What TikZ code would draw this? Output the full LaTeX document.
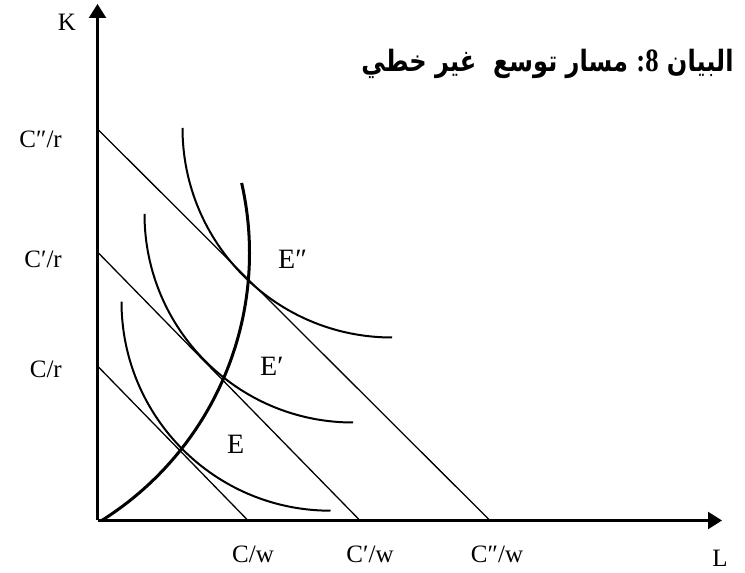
\documentclass[tikz,border=0pt]{standalone}
\usepackage{fontspec}
\setmainfont{Liberation Serif}
\newfontfamily\arabicfont[Script=Arabic]{DejaVu Sans}
\TeXXeTstate=1
\usetikzlibrary{arrows.meta}
\begin{document}
\begin{tikzpicture}[x=1pt,y=1pt,
  axis/.style={line width=2.4pt,-{Triangle[length=14pt,width=17pt]}},
  budget/.style={line width=1.3pt},
  iso/.style={line width=2pt},
  expath/.style={line width=3pt},
  axlab/.style={font=\fontsize{25}{30}\selectfont,inner sep=0pt},
  elab/.style={font=\fontsize{28}{32}\selectfont,inner sep=0pt,anchor=base west},
  title/.style={inner sep=0pt,anchor=base}]
\useasboundingbox (0,0) rectangle (745,573);
% axes
\coordinate (O) at (97.5,52.5);
\coordinate (Ktip) at (97.5,569);
\coordinate (Ltip) at (722,52.5);
\draw[axis] (O) -- (Ktip);
\draw[axis] (O) -- (Ltip);
% budget line intercepts
\coordinate (r0) at (97.5,207);
\coordinate (r1) at (97.5,321);
\coordinate (r2) at (97.5,444);
\coordinate (w0) at (248,52.5);
\coordinate (w1) at (360,52.5);
\coordinate (w2) at (490,52.5);
\draw[budget] (r0) -- (w0);
\draw[budget] (r1) -- (w1);
\draw[budget] (r2) -- (w2);
% isoquants (quarter circles)
\coordinate (i0) at (121.5,271.3);
\coordinate (i1) at (144.5,359);
\coordinate (i2) at (182.5,445);
\draw[iso] (i0) arc[start angle=180,end angle=270,radius=209];
\draw[iso] (i1) arc[start angle=180,end angle=270,radius=208.5];
\draw[iso] (i2) arc[start angle=180,end angle=270,radius=209.5];
% expansion path
\coordinate (p0) at ({-66.5+316*cos(-58)},{320+316*sin(-58)});
\draw[expath] (p0) arc[start angle=-58,end angle=12.8,radius=316];
% axis labels
\node[axlab,anchor=base] (K) at (67,542) {K};
\node[axlab,anchor=base] (L) at (720,6) {L};
\node[axlab,anchor=base east] (lr2) at (62,425) {C″/r};
\node[axlab,anchor=base east] (lr1) at (62,305) {C′/r};
\node[axlab,anchor=base east] (lr0) at (62,195) {C/r};
\node[axlab,anchor=base] (lw0) at (253,10) {C/w};
\node[axlab,anchor=base] (lw1) at (370,10) {C′/w};
\node[axlab,anchor=base] (lw2) at (497,10) {C″/w};
% equilibrium labels
\node[elab] (E2) at (278,304) {E″};
\node[elab] (E1) at (260,197) {E′};
\node[elab] (E0) at (227,119) {E};
% title
\node[title] (T) at (547.5,501) {\scalebox{0.86}[1.05]{\fontsize{28}{32}\selectfont\arabicfont\bfseries\beginR البيان \hbox{\fontspec{Liberation Serif}\bfseries\fontsize{31}{34}\selectfont :8} مسار توسع\ \ غير خطي\endR}};
\end{tikzpicture}
\end{document}
